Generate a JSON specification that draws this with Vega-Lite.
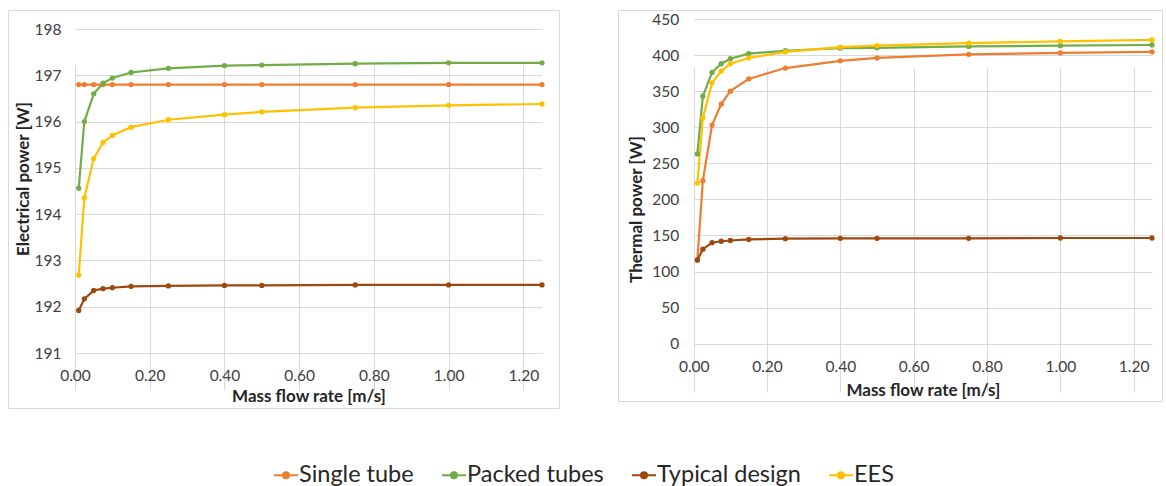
{
  "$schema": "https://vega.github.io/schema/vega-lite/v6.json",
  "background": "white",
  "padding": {"left": 7, "top": 9, "right": 0, "bottom": 0},
  "spacing": 59,
  "bounds": "flush",
  "data": {
    "values": [
      {"x": 0.01, "series": "Single tube", "elec": 196.8, "therm": 116},
      {"x": 0.025, "series": "Single tube", "elec": 196.8, "therm": 226},
      {"x": 0.05, "series": "Single tube", "elec": 196.8, "therm": 303},
      {"x": 0.075, "series": "Single tube", "elec": 196.8, "therm": 332},
      {"x": 0.1, "series": "Single tube", "elec": 196.8, "therm": 350},
      {"x": 0.15, "series": "Single tube", "elec": 196.8, "therm": 367},
      {"x": 0.25, "series": "Single tube", "elec": 196.8, "therm": 382},
      {"x": 0.4, "series": "Single tube", "elec": 196.8, "therm": 392},
      {"x": 0.5, "series": "Single tube", "elec": 196.8, "therm": 396},
      {"x": 0.75, "series": "Single tube", "elec": 196.8, "therm": 401},
      {"x": 1.0, "series": "Single tube", "elec": 196.8, "therm": 403},
      {"x": 1.25, "series": "Single tube", "elec": 196.8, "therm": 404.5},
      {"x": 0.01, "series": "Packed tubes", "elec": 194.56, "therm": 263},
      {"x": 0.025, "series": "Packed tubes", "elec": 196.0, "therm": 343},
      {"x": 0.05, "series": "Packed tubes", "elec": 196.6, "therm": 376},
      {"x": 0.075, "series": "Packed tubes", "elec": 196.83, "therm": 388},
      {"x": 0.1, "series": "Packed tubes", "elec": 196.94, "therm": 395},
      {"x": 0.15, "series": "Packed tubes", "elec": 197.06, "therm": 402},
      {"x": 0.25, "series": "Packed tubes", "elec": 197.15, "therm": 406},
      {"x": 0.4, "series": "Packed tubes", "elec": 197.21, "therm": 409.5},
      {"x": 0.5, "series": "Packed tubes", "elec": 197.22, "therm": 410},
      {"x": 0.75, "series": "Packed tubes", "elec": 197.25, "therm": 412},
      {"x": 1.0, "series": "Packed tubes", "elec": 197.27, "therm": 413},
      {"x": 1.25, "series": "Packed tubes", "elec": 197.27, "therm": 414},
      {"x": 0.01, "series": "Typical design", "elec": 191.92, "therm": 116},
      {"x": 0.025, "series": "Typical design", "elec": 192.17, "therm": 131},
      {"x": 0.05, "series": "Typical design", "elec": 192.35, "therm": 140},
      {"x": 0.075, "series": "Typical design", "elec": 192.39, "therm": 142},
      {"x": 0.1, "series": "Typical design", "elec": 192.41, "therm": 143},
      {"x": 0.15, "series": "Typical design", "elec": 192.44, "therm": 144.5},
      {"x": 0.25, "series": "Typical design", "elec": 192.45, "therm": 145.5},
      {"x": 0.4, "series": "Typical design", "elec": 192.46, "therm": 146},
      {"x": 0.5, "series": "Typical design", "elec": 192.46, "therm": 146},
      {"x": 0.75, "series": "Typical design", "elec": 192.47, "therm": 146},
      {"x": 1.0, "series": "Typical design", "elec": 192.47, "therm": 146.5},
      {"x": 1.25, "series": "Typical design", "elec": 192.47, "therm": 146.5},
      {"x": 0.01, "series": "EES", "elec": 192.68, "therm": 222.6},
      {"x": 0.025, "series": "EES", "elec": 194.35, "therm": 313},
      {"x": 0.05, "series": "EES", "elec": 195.2, "therm": 361.5},
      {"x": 0.075, "series": "EES", "elec": 195.55, "therm": 377.7},
      {"x": 0.1, "series": "EES", "elec": 195.7, "therm": 388},
      {"x": 0.15, "series": "EES", "elec": 195.88, "therm": 396},
      {"x": 0.25, "series": "EES", "elec": 196.04, "therm": 404.4},
      {"x": 0.4, "series": "EES", "elec": 196.15, "therm": 411},
      {"x": 0.5, "series": "EES", "elec": 196.21, "therm": 413},
      {"x": 0.75, "series": "EES", "elec": 196.3, "therm": 416.5},
      {"x": 1.0, "series": "EES", "elec": 196.35, "therm": 419},
      {"x": 1.25, "series": "EES", "elec": 196.38, "therm": 421}
    ]
  },
  "hconcat": [
    {
      "width": 551,
      "height": 398,
      "mark": {"type": "line", "strokeWidth": 2.2, "point": {"filled": true, "size": 28}},
      "encoding": {
        "x": {
          "field": "x", "type": "quantitative",
          "scale": {"domain": [0, 1.25], "range": [67, 534], "nice": false, "zero": false},
          "axis": {"title": "Mass flow rate [m/s]", "values": [0, 0.2, 0.4, 0.6, 0.8, 1.0, 1.2], "format": ".2f", "offset": -55, "labelPadding": 15, "titleY": 43, "titleBaseline": "middle", "labelFlush": false}
        },
        "y": {
          "field": "elec", "type": "quantitative",
          "scale": {"domain": [191, 198], "range": [343, 19], "nice": false, "zero": false},
          "axis": {"title": "Electrical power [W]", "values": [191, 192, 193, 194, 195, 196, 197, 198], "format": "d", "offset": -67, "labelPadding": 14, "titleX": -52, "titleY": 168.5, "titleBaseline": "middle", "labelFlush": false}
        },
        "color": {
          "field": "series", "type": "nominal",
          "scale": {"domain": ["Single tube", "Packed tubes", "Typical design", "EES"], "range": ["#ED7D31", "#70AD47", "#9E480E", "#FFC000"]},
          "legend": {
            "orient": "none", "legendX": 265, "legendY": 452, "direction": "horizontal", "title": null,
            "symbolType": "M-1,0H1M0.25,0A0.25,0.25,0,1,1,-0.25,0A0.25,0.25,0,1,1,0.25,0Z",
            "symbolSize": 576, "symbolStrokeWidth": 2,
            "labelFont": "Lato", "labelFontSize": 23.5, "labelColor": "#262626", "labelOffset": 0, "labelLimit": 300,
            "columnPadding": 24, "padding": 0,
            "encode": {"symbols": {"update": {"fill": {"scale": "color", "field": "value"}, "stroke": {"scale": "color", "field": "value"}, "strokeWidth": {"value": 2}}}}
          }
        }
      }
    },
    {
      "width": 544,
      "height": 391,
      "mark": {"type": "line", "strokeWidth": 2.2, "point": {"filled": true, "size": 28}},
      "encoding": {
        "x": {
          "field": "x", "type": "quantitative",
          "scale": {"domain": [0, 1.25], "range": [75.7, 534], "nice": false, "zero": false},
          "axis": {"title": "Mass flow rate [m/s]", "values": [0, 0.2, 0.4, 0.6, 0.8, 1.0, 1.2], "format": ".2f", "offset": -57.3, "labelPadding": 16, "titleY": 46.3, "titleBaseline": "middle", "labelFlush": false}
        },
        "y": {
          "field": "therm", "type": "quantitative",
          "scale": {"domain": [0, 450], "range": [333.7, 9], "nice": false, "zero": false},
          "axis": {"title": "Thermal power [W]", "values": [0, 50, 100, 150, 200, 250, 300, 350, 400, 450], "format": "d", "offset": -75.7, "labelPadding": 15, "titleX": -57.7, "titleY": 199, "titleBaseline": "middle", "labelFlush": false}
        },
        "color": {"field": "series", "type": "nominal"}
      }
    }
  ],
  "config": {
    "view": {"stroke": "#d9d9d9", "strokeWidth": 1},
    "axis": {
      "domain": false, "ticks": false, "tickSize": 0, "grid": true, "gridColor": "#d9d9d9", "gridWidth": 1,
      "labelFont": "Lato", "labelFontSize": 15.5, "labelColor": "#404040",
      "titleFont": "Lato", "titleFontSize": 17, "titleFontWeight": "bold", "titleColor": "#262626"
    }
  }
}
